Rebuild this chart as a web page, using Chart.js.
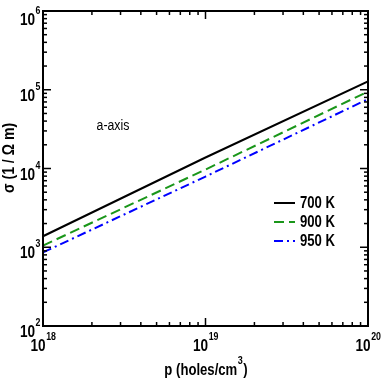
<!DOCTYPE html>
<html lang="en">
  <head>
    <meta charset="UTF-8" />
    <title>Conductivity vs hole concentration</title>
    <script src="https://cdn.jsdelivr.net/npm/chart.js"></script>
    <style>
      body { margin: 0; background: #fff; }
      canvas { display: block; }
    </style>
  </head>
  <body>
    <canvas id="grafico" width="382" height="382"></canvas>

    <script>
      // hole concentration (holes/cm^3)
      const pValues = [1e18, 1e19, 1e20];
      // conductivity sigma (1/Ohm m)
      const sigma700 = [1.38e3, 1.38e4, 1.28e5];
      const sigma900 = [1.05e3, 9.7e3, 9.5e4];
      const sigma950 = [8.6e2, 7.9e3, 7.6e4];
      const seriesLabels = ["700 K", "900 K", "950 K"];
      const xTickExps = [18, 19, 20];
      const yTickExps = [2, 3, 4, 5, 6];

      const cores = ["#000000", "#1a961a", "#0000ff"];
      const tracos = [[], [10, 5], [9, 4, 2, 4]];
      const FONTE = "'Liberation Sans', Arial, sans-serif";

      function pontos(ys) {
        return pValues.map((x, i) => ({ x: x, y: ys[i] }));
      }

      // text drawn narrower, like the condensed font of the original
      function texto(ctx, str, x, y, font, sx, align) {
        ctx.save();
        ctx.font = font;
        const w = ctx.measureText(str).width * sx;
        let x0 = x;
        if (align === "center") x0 = x - w / 2;
        if (align === "right") x0 = x - w;
        ctx.translate(x0, y);
        ctx.scale(sx, 1);
        ctx.textAlign = "left";
        ctx.fillText(str, 0, 0);
        ctx.restore();
        return w;
      }

      function largura(ctx, str, font, sx) {
        ctx.save();
        ctx.font = font;
        const w = ctx.measureText(str).width * sx;
        ctx.restore();
        return w;
      }

      const fBase = "bold 17px " + FONTE;
      const fSup = "bold 11px " + FONTE;

      function potencia(ctx, exp, x, baseline, align) {
        const wb = largura(ctx, "10", fBase, 0.8);
        const ws = largura(ctx, String(exp), fSup, 0.8);
        let x0 = x;
        if (align === "center") x0 = x - (wb + ws) / 2;
        if (align === "right") x0 = x - (wb + ws);
        texto(ctx, "10", x0, baseline, fBase, 0.8, "left");
        texto(ctx, String(exp), x0 + wb + 0.5, baseline - 11, fSup, 0.8, "left");
      }

      const eixos = {
        id: "eixos",
        afterDraw(chart) {
          const ctx = chart.ctx;
          const a = chart.chartArea;
          const sx = chart.scales.x;
          const sy = chart.scales.y;
          ctx.save();
          ctx.fillStyle = "#000";
          ctx.strokeStyle = "#000";

          // frame
          ctx.lineWidth = 2;
          ctx.strokeRect(a.left, a.top, a.right - a.left, a.bottom - a.top);

          // ticks on all four sides, pointing inward
          ctx.lineWidth = 1.5;
          function marca(x1, y1, x2, y2) {
            ctx.beginPath();
            ctx.moveTo(x1, y1);
            ctx.lineTo(x2, y2);
            ctx.stroke();
          }
          for (let e = xTickExps[0]; e < xTickExps[xTickExps.length - 1]; e++) {
            for (let m = 1; m <= 9; m++) {
              const px = sx.getPixelForValue(m * Math.pow(10, e));
              const len = m === 1 ? 8 : 4;
              marca(px, a.bottom, px, a.bottom - len);
              marca(px, a.top, px, a.top + len);
            }
          }
          for (let e = yTickExps[0]; e < yTickExps[yTickExps.length - 1]; e++) {
            for (let m = 1; m <= 9; m++) {
              const py = sy.getPixelForValue(m * Math.pow(10, e));
              const len = m === 1 ? 8 : 4;
              marca(a.left, py, a.left + len, py);
              marca(a.right, py, a.right - len, py);
            }
          }

          // tick labels
          ctx.textBaseline = "alphabetic";
          yTickExps.forEach((e) => {
            const py = sy.getPixelForValue(Math.pow(10, e));
            potencia(ctx, e, a.left - 3, Math.max(py + 11, 25), "right");
          });
          xTickExps.forEach((e) => {
            const px = sx.getPixelForValue(Math.pow(10, e));
            potencia(ctx, e, px, a.bottom + 25, "center");
          });

          // axis titles
          const fTit = "bold 16px " + FONTE;
          const w1 = largura(ctx, "p (holes/cm", fTit, 0.82);
          const w3 = largura(ctx, "3", fSup, 0.82);
          const w4 = largura(ctx, ")", fTit, 0.82);
          let xt = (a.left + a.right) / 2 - (w1 + w3 + w4) / 2;
          texto(ctx, "p (holes/cm", xt, 375, fTit, 0.82, "left");
          texto(ctx, "3", xt + w1 + 0.5, 364, fSup, 0.82, "left");
          texto(ctx, ")", xt + w1 + w3 + 1, 375, fTit, 0.82, "left");

          ctx.save();
          ctx.translate(14, 158);
          ctx.rotate(-Math.PI / 2);
          texto(ctx, "\u03c3 (1 / \u03a9 m)", 0, 0, fTit, 0.88, "center");
          ctx.restore();

          // annotation
          ctx.textBaseline = "middle";
          texto(ctx, "a-axis", 113, 126, "14px " + FONTE, 0.88, "center");

          // legend
          seriesLabels.forEach((lab, i) => {
            const yl = 203 + i * 19;
            ctx.save();
            ctx.strokeStyle = cores[i];
            ctx.lineWidth = 2;
            ctx.setLineDash(tracos[i]);
            marca(274, yl, 295, yl);
            ctx.restore();
            texto(ctx, lab, 300, yl + 1, "bold 16px " + FONTE, 0.82, "left");
          });

          ctx.restore();
        },
      };

      const ctx = document.getElementById("grafico").getContext("2d");
      const series = [sigma700, sigma900, sigma950];
      window.grafico = new Chart(ctx, {
        type: "line",
        data: {
          datasets: series.map((s, i) => ({
            label: seriesLabels[i],
            data: pontos(s),
            borderColor: cores[i],
            borderDash: tracos[i],
            borderWidth: 2,
            pointRadius: 0,
            fill: false,
            tension: 0,
          })),
        },
        options: {
          responsive: false,
          animation: false,
          devicePixelRatio: 1,
          layout: { padding: { left: 43, top: 11, right: 14, bottom: 56 } },
          plugins: { legend: { display: false }, tooltip: { enabled: false } },
          scales: {
            x: {
              type: "logarithmic",
              display: false,
              min: Math.pow(10, xTickExps[0]),
              max: Math.pow(10, xTickExps[xTickExps.length - 1]),
            },
            y: {
              type: "logarithmic",
              display: false,
              min: Math.pow(10, yTickExps[0]),
              max: Math.pow(10, yTickExps[yTickExps.length - 1]),
            },
          },
        },
        plugins: [eixos],
      });
    </script>
  </body>
</html>
